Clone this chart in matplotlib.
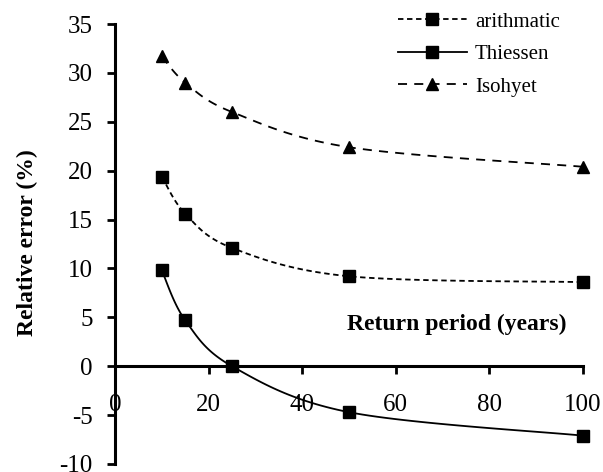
import numpy as np
import matplotlib
matplotlib.use("Agg")
import matplotlib.pyplot as plt
from matplotlib.lines import Line2D

# ---- data ----
return_period = [10, 15, 25, 50, 100]
arithmatic = [19.4, 15.6, 12.1, 9.2, 8.6]
thiessen = [9.8, 4.7, 0.0, -4.7, -7.1]
isohyet = [31.7, 29.0, 26.0, 22.4, 20.4]
x_ticks = [0, 20, 40, 60, 80, 100]
y_ticks = [-10, -5, 0, 5, 10, 15, 20, 25, 30, 35]

plt.rcParams['font.family'] = ['Liberation Serif', 'DejaVu Serif']
plt.rcParams['axes.unicode_minus'] = False


def smooth(xs, ys, n=30):
    """Excel-like smoothed line (Catmull-Rom / Bezier)."""
    p = np.column_stack([xs, ys]).astype(float)
    pts = np.vstack([p[0], p, p[-1]])
    out = []
    t = np.linspace(0, 1, n)
    for i in range(1, len(pts) - 2):
        p0, p1, p2, p3 = pts[i - 1], pts[i], pts[i + 1], pts[i + 2]
        c1 = p1 + (p2 - p0) / 6.0
        c2 = p2 - (p3 - p1) / 6.0
        seg = ((1 - t) ** 3)[:, None] * p1 + (3 * (1 - t) ** 2 * t)[:, None] * c1 \
            + (3 * (1 - t) * t ** 2)[:, None] * c2 + (t ** 3)[:, None] * p2
        out.append(seg if i == 1 else seg[1:])
    s = np.vstack(out)
    return s[:, 0], s[:, 1]


W, H = 603, 472
fig = plt.figure(figsize=(W / 100, H / 100), dpi=100)
ax = fig.add_axes([115 / W, 1 - 464 / H, (583 - 115) / W, (464 - 24) / H])

series = [
    (arithmatic, (0, (3, 2)), 's', 'arithmatic'),
    (thiessen, '-', 's', 'Thiessen'),
    (isohyet, (0, (5, 4)), '^', 'Isohyet'),
]
handles = []
for ys, ls, mk, lab in series:
    sx, sy = smooth(return_period, ys)
    ax.plot(sx, sy, color='black', lw=1.3, linestyle=ls, clip_on=False)
    ax.plot(return_period, ys, linestyle='none', marker=mk, color='black',
            markersize=8.5, clip_on=False, zorder=5)
    handles.append(Line2D([], [], color='black', lw=1.3, linestyle=ls,
                          marker=mk, markersize=8, label=lab))

ax.set_xlim(0, 100)
ax.set_ylim(-10, 35)
ax.set_xticks(x_ticks)
ax.set_yticks(y_ticks)
ax.spines['top'].set_visible(False)
ax.spines['right'].set_visible(False)
ax.spines['bottom'].set_position(('data', 0))
for s in ('left', 'bottom'):
    ax.spines[s].set_linewidth(2.2)
ax.tick_params(axis='y', direction='out', length=6, width=2, pad=10, labelsize=18)
ax.tick_params(axis='x', direction='out', length=6, width=2, pad=14, labelsize=18)

fig.text(457 / W, 1 - 324 / H, 'Return period (years)', ha='center', va='center',
         fontsize=17, fontweight='bold')
fig.text(27 / W, 1 - 243 / H, 'Relative error (%)', rotation=90, ha='center',
         va='center', fontsize=17, fontweight='bold')

leg = ax.legend(handles=handles, loc='upper left', bbox_to_anchor=(398 / W, 1 - 12 / H),
                bbox_transform=fig.transFigure, frameon=False, fontsize=15,
                handlelength=3.3, labelspacing=0.62, handletextpad=0.4,
                borderaxespad=0.0, borderpad=0.0)

fig.savefig('out.png', dpi=100)
